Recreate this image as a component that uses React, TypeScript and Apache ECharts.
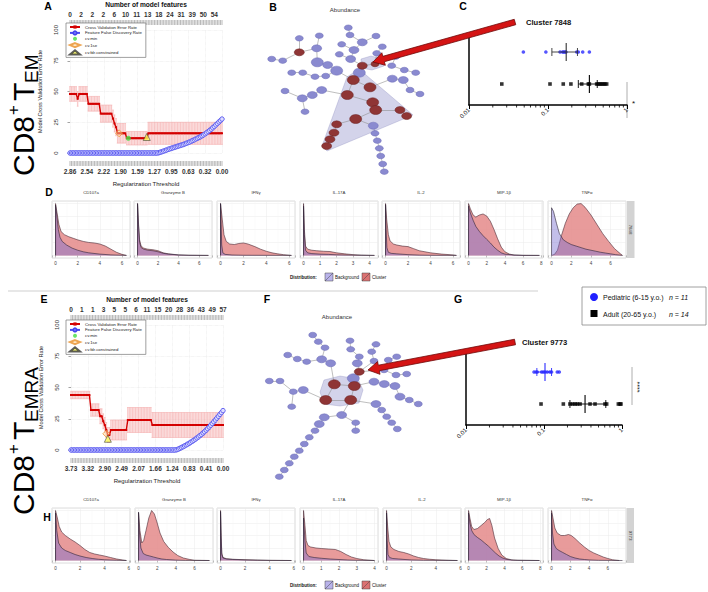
import React, { useEffect, useRef } from "react";
import * as echarts from "echarts";

const FONT = "'Liberation Sans', Arial, Helvetica, sans-serif";

// ---------------- Panel A : CD8+ TEM lasso cross-validation ----------------
const lambdaLabelsA = ["2.86", "2.54", "2.22", "1.90", "1.59", "1.27", "0.95", "0.63", "0.32", "0.00"];
const featureCountsA = ["0", "2", "2", "2", "6", "10", "11", "13", "18", "24", "31", "39", "50", "54"];
const cvErrorA = [
  48, 48, 48, 48, 48, 44, 48, 48, 48, 48,
  48, 48, 40, 40, 40, 40, 40, 40, 40, 40,
  32, 32, 32, 32, 32, 32, 32, 32, 28, 24,
  21, 16, 16, 16, 16, 16, 16, 12, 12, 12,
  12, 12, 12, 12, 12, 12, 12, 12, 12, 12,
  12, 16, 16, 16, 16, 16, 16, 16, 16, 16,
  16, 16, 16, 16, 16, 16, 16, 16, 16, 16,
  16, 16, 16, 16, 16, 16, 16, 16, 16, 16,
  16, 16, 16, 16, 16, 16, 16, 16, 16, 16,
  16, 16, 16, 16, 16, 16, 16, 16, 16, 16,
];
const cvSEA = [
  6, 6, 6, 6, 6, 6, 6, 6, 6, 6,
  6, 6, 6, 6, 6, 6, 6, 6, 6, 6,
  7, 7, 7, 7, 7, 7, 7, 7, 7, 7,
  7, 8, 8, 8, 8, 8, 8, 5.5, 5.5, 5.5,
  5.5, 5.5, 5.5, 5.5, 5.5, 5.5, 5.5, 5.5, 5.5, 5.5,
  5.5, 9, 9, 9, 9, 9, 9, 9, 9, 9,
  9, 9, 9, 9, 9, 9, 9, 9, 9, 9,
  9, 9, 9, 9, 9, 9, 9, 9, 9, 9,
  9, 9, 9, 9, 9, 9, 9, 9, 9, 9,
  9, 9, 9, 9, 9, 9, 9, 9, 9, 9,
];
const fdrA = [
  0, 0, 0, 0, 0, 0, 0, 0, 0, 0,
  0, 0, 0, 0, 0, 0, 0, 0, 0, 0,
  0, 0, 0, 0, 0, 0, 0, 0, 0, 0,
  0, 0, 0, 0, 0, 0, 0, 0, 0, 0,
  0, 0, 0, 0, 0, 0, 0, 0, 0, 0,
  0, 0, 0, 0, 0, 0, 0, 0, 0.3, 0.7,
  1.1, 1.6, 2.0, 2.5, 3.0, 3.4, 3.8, 4.2, 4.6, 5.0,
  5.4, 5.8, 6.2, 6.6, 7.0, 7.5, 8.0, 8.5, 9.0, 9.6,
  10.2, 10.8, 11.4, 12.0, 12.6, 13.3, 14.0, 14.8, 15.6, 16.5,
  17.4, 18.4, 19.4, 20.5, 21.6, 22.8, 24.0, 25.2, 26.4, 27.6,
];
const cvMinA = [[38, 12]];
const cv1seA = [[32, 16]];
const cvFdrA = [[50, 13]];

// ---------------- Panel E : CD8+ TEMRA lasso cross-validation ----------------
const lambdaLabelsE = ["3.73", "3.32", "2.90", "2.49", "2.07", "1.66", "1.24", "0.83", "0.41", "0.00"];
const featureCountsE = ["0", "1", "1", "3", "5", "5", "6", "11", "15", "20", "28", "36", "43", "49", "57"];
const cvErrorE = [
  44, 44, 44, 44, 44, 44, 44, 44, 44, 44,
  44, 44, 44, 32, 32, 32, 32, 32, 32, 27,
  27, 23, 20, 16, 12, 12, 16, 16, 16, 16,
  16, 16, 16, 16, 16, 16, 16, 24, 24, 24,
  24, 24, 24, 24, 24, 24, 24, 24, 24, 24,
  24, 24, 24, 20, 20, 20, 20, 20, 20, 20,
  20, 20, 20, 20, 20, 20, 20, 20, 20, 20,
  20, 20, 20, 20, 20, 20, 20, 20, 20, 20,
  20, 20, 20, 20, 20, 20, 20, 20, 20, 20,
  20, 20, 20, 20, 20, 20, 20, 20, 20, 20,
];
const cvSEE = [
  3, 3, 3, 3, 3, 3, 3, 3, 3, 3,
  3, 3, 3, 5, 5, 5, 5, 5, 5, 6,
  6, 6, 6, 6, 6, 6, 8, 8, 8, 8,
  8, 8, 8, 8, 8, 8, 8, 10, 10, 10,
  10, 10, 10, 10, 10, 10, 10, 10, 10, 10,
  10, 10, 10, 10, 10, 10, 10, 10, 10, 10,
  10, 10, 10, 10, 10, 10, 10, 10, 10, 10,
  10, 10, 10, 10, 10, 10, 10, 10, 10, 10,
  10, 10, 10, 10, 10, 10, 10, 10, 10, 10,
  10, 10, 10, 10, 10, 10, 10, 10, 10, 10,
];
const fdrE = [
  0, 0, 0, 0, 0, 0, 0, 0, 0, 0,
  0, 0, 0, 0, 0, 0, 0, 0, 0, 0,
  0, 0, 0, 0, 0, 0, 0, 0, 0, 0,
  0, 0, 0, 0, 0, 0, 0, 0, 0, 0,
  0, 0, 0, 0, 0, 0, 0, 0, 0, 0,
  0, 0, 0, 0, 0, 0, 0, 0, 0, 0,
  0, 0, 0, 0, 0, 0, 0, 0, 0, 0.3,
  0.8, 1.4, 2.0, 2.6, 3.3, 4.0, 4.7, 5.4, 6.2, 7.0,
  7.8, 8.7, 9.6, 10.5, 11.5, 12.5, 13.6, 14.7, 15.9, 17.1,
  18.4, 19.8, 21.2, 22.6, 24.0, 25.5, 27.0, 28.5, 30.0, 31.5,
];
const cvMinE: number[][] = [];
const cv1seE = [[23, 13]];
const cvFdrE = [[24, 9]];

// ---------------- Panels C / G : cluster abundance per donor ----------------
const pediatricC = [0.0488, 0.094, 0.142, 0.153, 0.158, 0.164, 0.169, 0.231, 0.242, 0.275, 0.334];
const adultC = [0.026, 0.106, 0.156, 0.195, 0.267, 0.324, 0.334, 0.413, 0.434, 0.455, 0.477, 0.5, 0.525, 0.553];
const pediatricStatsC = [0.17, 0.112, 0.236]; // mean, low, high
const adultStatsC = [0.334, 0.242, 0.42];
const pediatricG = [0.0745, 0.079, 0.082, 0.093, 0.098, 0.103, 0.11, 0.119, 0.125, 0.148, 0.157];
const adultG = [0.0916, 0.177, 0.215, 0.233, 0.25, 0.267, 0.29, 0.389, 0.451, 0.605, 0.636, 0.898, 0.943, 0.97];
const pediatricStatsG = [0.103, 0.081, 0.125];
const adultStatsG = [0.336, 0.215, 0.62];
const logMinorTicks = [0.02, 0.03, 0.04, 0.05, 0.06, 0.07, 0.08, 0.09, 0.2, 0.3, 0.4, 0.5, 0.6, 0.7, 0.8, 0.9];

// ---------------- Panels B / F : SPADE trees (x, y, abundance class, in-cluster) ----------------
const nodesB = [
  [108.3, 27.7, 0, 0], [110, 35, 0, 0], [122.3, 42.3, 1, 0], [136, 36, 0, 0], [142.3, 46.7, 0, 0],
  [136.7, 53.3, 0, 0], [101.7, 44.3, 0, 0], [114, 50, 1, 0], [99.3, 54.3, 0, 0], [110.7, 59, 1, 0],
  [59.3, 38.3, 0, 0], [79.3, 35.7, 0, 0], [76.7, 48.3, 1, 0], [31.7, 59, 0, 0], [42.7, 60.7, 0, 0],
  [77.3, 62.3, 2, 0], [87.7, 65, 1, 0], [96.7, 70.7, 2, 0], [51.7, 72.7, 0, 0], [62.7, 72.7, 0, 0],
  [75, 76.7, 0, 0], [85.7, 76, 0, 0], [119.3, 72.7, 2, 0], [151.7, 65.7, 0, 0], [164.3, 70, 0, 0],
  [175.7, 72.7, 0, 0], [152.3, 78.7, 1, 0], [163.3, 80, 1, 0], [170, 90, 0, 0], [180, 94, 0, 0],
  [45, 91, 0, 0], [62.3, 98.3, 1, 0], [72.3, 95, 1, 0], [81.7, 90, 1, 0], [65, 111.7, 0, 0],
  [133.3, 125.7, 1, 0], [135, 133.3, 0, 0], [137.3, 140.7, 0, 0], [139.3, 148.3, 0, 0], [140.7, 156, 0, 0],
  [142.7, 164, 0, 0], [144.3, 171.7, 0, 0], [155.7, 56.7, 0, 0],
  [59.3, 52.3, 1, 1], [122.3, 65.7, 1, 1], [135, 64, 0, 1], [113.3, 80, 2, 1], [130, 87.3, 2, 1],
  [107.3, 95, 2, 1], [132.7, 102.3, 2, 1], [135.7, 110, 2, 1], [160, 110, 1, 1], [166.7, 116, 1, 1],
  [115.7, 119, 2, 1], [96.7, 124.3, 1, 1], [94, 132.7, 1, 1], [90, 139.3, 1, 1], [86.7, 146, 1, 1],
];
const edgesB = [
  [0, 1], [1, 2], [2, 3], [2, 7], [4, 5], [5, 45], [6, 7], [7, 9], [8, 9], [9, 44], [44, 45], [44, 22],
  [22, 46], [10, 43], [43, 12], [11, 12], [12, 15], [13, 14], [14, 43], [15, 16], [16, 17], [17, 46],
  [18, 19], [19, 20], [20, 21], [21, 17], [45, 42], [42, 23], [23, 24], [24, 25], [46, 47], [47, 26],
  [26, 27], [27, 28], [28, 29], [46, 48], [48, 33], [33, 32], [32, 31], [31, 30], [31, 34], [48, 49],
  [49, 50], [50, 51], [51, 52], [50, 53], [53, 54], [54, 55], [55, 56], [56, 57], [53, 35], [35, 36],
  [36, 37], [37, 38], [38, 39], [39, 40], [40, 41],
];
const hullsB = [
  [[107, 77], [119, 69], [173, 115], [87, 151], [82, 146]],
  [[121, 59], [131, 56], [143, 59], [144, 66], [132, 70], [121, 68]],
];
const nodesF = [
  [72.7, 35, 0, 0], [78.3, 41.7, 0, 0], [85, 47.7, 0, 0], [81.7, 59.3, 1, 0], [90.7, 63.3, 1, 0],
  [47.7, 55, 0, 0], [57.3, 59, 0, 0], [66.7, 61.7, 0, 0], [110, 40.7, 0, 0], [110.7, 49.3, 0, 0],
  [119.3, 56.7, 0, 0], [117.3, 63.3, 1, 0], [131.7, 51.7, 0, 0], [136, 44.3, 0, 0], [134, 61, 0, 0],
  [148.3, 60, 0, 0], [156.7, 56.7, 0, 0], [144, 70, 0, 0], [156, 75, 0, 0], [166.7, 74, 0, 0],
  [113.3, 78.3, 2, 0], [134, 81.7, 1, 0], [144.3, 84, 1, 0], [155, 86, 1, 0], [160, 96.7, 1, 0],
  [169.3, 100, 0, 0], [178.3, 104, 0, 0], [29.3, 81, 0, 0], [40, 81, 0, 0], [53.3, 91.7, 0, 0],
  [63.3, 90, 1, 0], [51.7, 106.7, 0, 0], [136, 104, 1, 0], [141.7, 110, 0, 0], [146.7, 116.7, 0, 0],
  [151.7, 122.7, 0, 0], [157.3, 129, 0, 0], [101.7, 115, 1, 0], [115.7, 122.7, 0, 0], [115.7, 130.7, 0, 0],
  [84.3, 117.3, 1, 0], [79.3, 124, 1, 0], [75, 130.7, 0, 0], [69.3, 137.3, 0, 0], [64.3, 144, 0, 0],
  [59.3, 150.7, 0, 0], [54.3, 156.7, 0, 0], [49.3, 163.3, 0, 0], [44.3, 170, 0, 0], [39.3, 176.7, 0, 0],
  [119.3, 71.7, 1, 1], [94.3, 84.3, 2, 1], [114.3, 86, 2, 1], [85.7, 100, 2, 1], [110.7, 100, 2, 1],
];
const edgesF = [
  [0, 1], [1, 2], [2, 3], [3, 4], [5, 6], [6, 7], [7, 3], [4, 51], [8, 9], [9, 10], [10, 11], [11, 50],
  [13, 12], [12, 14], [14, 50], [16, 15], [15, 17], [17, 18], [18, 19], [17, 50], [50, 52], [20, 52],
  [51, 52], [51, 53], [52, 54], [53, 54], [52, 21], [21, 22], [22, 23], [23, 24], [24, 25], [25, 26],
  [53, 30], [30, 29], [29, 28], [28, 27], [29, 31], [54, 32], [32, 33], [33, 34], [34, 35], [35, 36],
  [54, 37], [37, 38], [38, 39], [37, 40], [40, 41], [41, 42], [42, 43], [43, 44], [44, 45], [45, 46],
  [46, 47], [47, 48], [48, 49],
];
const hullsF = [
  [[84, 80], [100, 76], [118, 79], [123, 90], [119, 103], [100, 106], [84, 104], [80, 92]],
];

// ---------------- Panels D / H : marker densities ----------------
const densityMarkers = ["CD107a", "Granzyme B", "IFNγ", "IL-17A", "IL-2", "MIP-1β", "TNFα"];
const temXMax = [6.4, 6.9, 6.2, 4.3, 6.3, 7.8, 7.2];
const temraXMax = [5.8, 7.6, 5.8, 4.0, 5.75, 7.9, 7.55];
const temXStep = [2, 2, 2, 1, 2, 2, 2];
const temraXStep = [2, 2, 2, 1, 2, 2, 2];

const temCD107aCl = [[0, 0], [0, 1], [0.15, 0.8], [0.3, 0.6], [0.5, 0.46], [0.8, 0.4], [1.2, 0.36], [1.6, 0.33], [2, 0.3], [2.5, 0.27], [3, 0.25], [3.5, 0.24], [4, 0.22], [4.5, 0.18], [5, 0.12], [5.5, 0.06], [6, 0.02], [6.4, 0]];
const temCD107aBg = [[0, 0], [0, 0.97], [0.1, 0.8], [0.25, 0.5], [0.4, 0.35], [0.6, 0.27], [1, 0.2], [1.5, 0.14], [2, 0.1], [2.5, 0.07], [3, 0.05], [4, 0.025], [5, 0.01], [6, 0.003], [6.4, 0]];
const temGzmBCl = [[0, 0], [0, 1], [0.1, 0.6], [0.2, 0.3], [0.35, 0.18], [0.6, 0.14], [1, 0.12], [1.5, 0.11], [2, 0.09], [2.5, 0.05], [3, 0.03], [4, 0.01], [5, 0.003], [6.9, 0]];
const temGzmBBg = [[0, 0], [0, 1], [0.1, 0.55], [0.2, 0.25], [0.35, 0.15], [0.6, 0.12], [1, 0.1], [1.5, 0.09], [2, 0.07], [2.5, 0.04], [3, 0.025], [4, 0.008], [5, 0.002], [6.9, 0]];
const temIFNgCl = [[0, 0], [0, 1], [0.15, 0.7], [0.3, 0.4], [0.5, 0.27], [0.8, 0.22], [1.2, 0.21], [1.6, 0.23], [2, 0.24], [2.4, 0.22], [3, 0.17], [3.5, 0.12], [4, 0.08], [4.5, 0.05], [5, 0.03], [5.5, 0.015], [6.2, 0]];
const temIFNgBg = [[0, 0], [0, 1], [0.05, 0.6], [0.1, 0.2], [0.2, 0.05], [0.4, 0.02], [1, 0.008], [2, 0.003], [6.2, 0]];
const temIL17ACl = [[0, 0], [0, 1], [0.05, 0.5], [0.12, 0.18], [0.25, 0.12], [0.5, 0.1], [0.8, 0.09], [1.2, 0.08], [1.6, 0.075], [2, 0.05], [2.5, 0.03], [3, 0.015], [3.5, 0.005], [4.3, 0]];
const temIL17ABg = [[0, 0], [0, 0.95], [0.05, 0.4], [0.12, 0.1], [0.25, 0.05], [0.5, 0.035], [1, 0.025], [1.5, 0.02], [2, 0.012], [3, 0.004], [4.3, 0]];
const temIL2Cl = [[0, 0], [0, 1], [0.1, 0.7], [0.25, 0.4], [0.4, 0.28], [0.7, 0.22], [1, 0.2], [1.5, 0.18], [2, 0.17], [2.5, 0.13], [3, 0.09], [3.5, 0.07], [4, 0.05], [5, 0.025], [6, 0.01], [6.3, 0]];
const temIL2Bg = [[0, 0], [0, 0.98], [0.05, 0.5], [0.12, 0.15], [0.25, 0.06], [0.5, 0.04], [1, 0.03], [2, 0.015], [3, 0.006], [4, 0.002], [6.3, 0]];
const temMIP1bCl = [[0, 0], [0, 1], [0.2, 0.9], [0.5, 0.78], [0.8, 0.74], [1.2, 0.78], [1.6, 0.8], [2, 0.76], [2.4, 0.66], [2.8, 0.5], [3.2, 0.32], [3.6, 0.16], [4, 0.07], [4.5, 0.025], [5, 0.008], [6, 0.001], [7.8, 0]];
const temMIP1bBg = [[0, 0], [0, 0.95], [0.2, 0.82], [0.5, 0.68], [0.8, 0.56], [1.2, 0.46], [1.6, 0.38], [2, 0.31], [2.4, 0.24], [2.8, 0.16], [3.2, 0.1], [3.6, 0.05], [4, 0.025], [5, 0.006], [6, 0.001], [7.8, 0]];
const temTNFaCl = [[0, 0], [0.3, 0.02], [0.6, 0.1], [1, 0.38], [1.4, 0.62], [1.8, 0.8], [2.2, 0.92], [2.6, 0.99], [3, 1], [3.4, 0.93], [4, 0.78], [4.6, 0.6], [5.2, 0.42], [5.8, 0.27], [6.4, 0.13], [7, 0.03], [7.2, 0]];
const temTNFaBg = [[0, 0], [0, 0.92], [0.2, 0.85], [0.5, 0.62], [0.8, 0.42], [1.2, 0.3], [1.6, 0.25], [2, 0.21], [2.5, 0.18], [3, 0.15], [3.5, 0.12], [4, 0.1], [4.5, 0.08], [5, 0.06], [5.5, 0.045], [6, 0.03], [6.5, 0.015], [7.2, 0]];

const temraCD107aCl = [[0, 0], [0, 1], [0.15, 0.85], [0.3, 0.68], [0.5, 0.57], [0.8, 0.5], [1.2, 0.43], [1.6, 0.37], [2, 0.3], [2.4, 0.22], [2.8, 0.16], [3.2, 0.13], [3.6, 0.11], [4, 0.09], [4.5, 0.06], [5, 0.03], [5.5, 0.01], [5.8, 0]];
const temraCD107aBg = [[0, 0], [0, 0.95], [0.1, 0.6], [0.25, 0.35], [0.5, 0.25], [0.8, 0.2], [1.2, 0.16], [1.6, 0.12], [2, 0.09], [2.5, 0.06], [3, 0.04], [3.5, 0.025], [4, 0.015], [5, 0.005], [5.8, 0]];
const temraGzmBCl = [[0, 0], [0, 0.95], [0.15, 0.6], [0.35, 0.35], [0.55, 0.4], [0.8, 0.6], [1.1, 0.85], [1.4, 1], [1.7, 0.93], [2, 0.75], [2.3, 0.55], [2.7, 0.38], [3.2, 0.26], [3.7, 0.17], [4.2, 0.1], [4.8, 0.05], [5.5, 0.02], [6, 0.005], [7.6, 0]];
const temraGzmBBg = [[0, 0], [0, 0.97], [0.1, 0.55], [0.25, 0.25], [0.5, 0.14], [0.8, 0.11], [1.2, 0.09], [1.6, 0.07], [2, 0.05], [2.5, 0.03], [3, 0.02], [4, 0.008], [5, 0.002], [7.6, 0]];
const temraIFNgCl = [[0, 0], [0, 1], [0.05, 0.5], [0.1, 0.15], [0.2, 0.06], [0.5, 0.035], [1, 0.025], [2, 0.015], [3, 0.008], [4, 0.003], [5.8, 0]];
const temraIFNgBg = [[0, 0], [0, 0.98], [0.05, 0.45], [0.1, 0.12], [0.2, 0.05], [0.5, 0.03], [1, 0.02], [2, 0.012], [3, 0.006], [4, 0.002], [5.8, 0]];
const temraIL17ACl = [[0, 0], [0, 1], [0.08, 0.7], [0.15, 0.4], [0.25, 0.3], [0.4, 0.27], [0.7, 0.25], [1, 0.24], [1.4, 0.23], [1.8, 0.22], [2.1, 0.18], [2.4, 0.12], [2.7, 0.07], [3, 0.04], [3.4, 0.015], [4, 0]];
const temraIL17ABg = [[0, 0], [0, 0.85], [0.08, 0.4], [0.15, 0.15], [0.3, 0.08], [0.6, 0.06], [1, 0.045], [1.5, 0.03], [2, 0.02], [2.5, 0.01], [3, 0.004], [4, 0]];
const temraIL2Cl = [[0, 0], [0, 1], [0.1, 0.65], [0.2, 0.38], [0.35, 0.27], [0.6, 0.22], [1, 0.18], [1.4, 0.16], [1.8, 0.13], [2.2, 0.09], [2.6, 0.06], [3, 0.04], [3.5, 0.025], [4, 0.015], [5, 0.005], [5.75, 0]];
const temraIL2Bg = [[0, 0], [0, 0.95], [0.05, 0.4], [0.12, 0.12], [0.25, 0.06], [0.5, 0.04], [1, 0.03], [1.5, 0.02], [2, 0.012], [3, 0.005], [5.75, 0]];
const temraMIP1bCl = [[0, 0], [0, 1], [0.15, 0.85], [0.35, 0.68], [0.6, 0.62], [1, 0.64], [1.4, 0.7], [1.8, 0.76], [2.1, 0.82], [2.35, 0.84], [2.6, 0.7], [2.9, 0.45], [3.3, 0.24], [3.7, 0.11], [4.2, 0.04], [4.8, 0.012], [5.5, 0.003], [7.9, 0]];
const temraMIP1bBg = [[0, 0], [0, 0.95], [0.15, 0.75], [0.35, 0.6], [0.6, 0.52], [1, 0.46], [1.4, 0.41], [1.8, 0.35], [2.2, 0.29], [2.6, 0.22], [3, 0.15], [3.4, 0.09], [3.8, 0.05], [4.3, 0.02], [5, 0.006], [7.9, 0]];
const temraTNFaCl = [[0, 0], [0, 1], [0.15, 0.85], [0.35, 0.65], [0.6, 0.55], [1, 0.5], [1.4, 0.5], [1.8, 0.52], [2.1, 0.5], [2.5, 0.44], [3, 0.35], [3.5, 0.27], [4, 0.2], [4.5, 0.15], [5, 0.11], [5.5, 0.07], [6, 0.04], [6.5, 0.015], [7.2, 0]];
const temraTNFaBg = [[0, 0], [0, 0.95], [0.1, 0.55], [0.25, 0.33], [0.5, 0.24], [0.8, 0.2], [1.2, 0.16], [1.6, 0.12], [2, 0.08], [2.5, 0.05], [3, 0.03], [3.5, 0.02], [4, 0.012], [5, 0.004], [7.55, 0]];

const temCluster = [temCD107aCl, temGzmBCl, temIFNgCl, temIL17ACl, temIL2Cl, temMIP1bCl, temTNFaCl];
const temBackground = [temCD107aBg, temGzmBBg, temIFNgBg, temIL17ABg, temIL2Bg, temMIP1bBg, temTNFaBg];
const temraCluster = [temraCD107aCl, temraGzmBCl, temraIFNgCl, temraIL17ACl, temraIL2Cl, temraMIP1bCl, temraTNFaCl];
const temraBackground = [temraCD107aBg, temraGzmBBg, temraIFNgBg, temraIL17ABg, temraIL2Bg, temraMIP1bBg, temraTNFaBg];

// ---------------- layout constants ----------------
const DENS_LEFT_D = [52, 134, 217, 300, 382, 465, 548];
const DENS_LEFT_H = [52, 135, 217, 300, 383, 465, 548];
const DENS_W = 78;

const isInt = (v: number) => Math.abs(v - Math.round(v)) < 1e-6;

function arrowPoints(tail: number[], tip: number[]) {
  const dx = tip[0] - tail[0];
  const dy = tip[1] - tail[1];
  const L = Math.hypot(dx, dy);
  const ux = dx / L, uy = dy / L;
  const nx = -uy, ny = ux;
  const sw = 2.8, hw = 6.5, hl = 11;
  const hx = tip[0] - ux * hl, hy = tip[1] - uy * hl;
  return [
    [tail[0] + nx * sw, tail[1] + ny * sw],
    [hx + nx * sw, hy + ny * sw],
    [hx + nx * hw, hy + ny * hw],
    [tip[0], tip[1]],
    [hx - nx * hw, hy - ny * hw],
    [hx - nx * sw, hy - ny * sw],
    [tail[0] - nx * sw, tail[1] - ny * sw],
  ];
}

function cellLabel(x: number, y: number, sub: string) {
  const big = 30;
  const t = (text: string, lx: number, ly: number, size: number) => ({
    type: "text",
    x: lx,
    y: ly,
    silent: true,
    style: { text, fontSize: size, fontFamily: FONT, fill: "#000", align: "left", verticalAlign: "middle" },
  });
  return {
    type: "group",
    x,
    y,
    rotation: Math.PI / 2,
    silent: true,
    children: [t("CD8", 0, 0, big), t("+", 61, -10, 17), t("T", 75, 0, big), t(sub, 93, 8.5, 19)],
  };
}

function buildOption() {
  const grids: any[] = [];
  const xAxes: any[] = [];
  const yAxes: any[] = [];
  const series: any[] = [];
  const graphic: any[] = [];

  // ---------- lasso CV panels (A, E) ----------
  const cvPanel = (
    left: number,
    top: number,
    topMax: number,
    lambdaLabels: string[],
    featureCounts: string[],
    cv: number[],
    se: number[],
    fdr: number[],
    cvMin: number[][],
    cv1se: number[][],
    cvFdr: number[][]
  ) => {
    const gi = grids.length;
    grids.push({ left, top, width: 152, height: 125 });
    const xb = xAxes.length;
    xAxes.push({
      gridIndex: gi, type: "value", position: "bottom", min: 0, max: 99, interval: 11, offset: 13,
      axisLine: { show: false },
      axisTick: { show: false },
      axisLabel: {
        fontSize: 6.5, fontWeight: "bold", color: "#333", margin: 2, fontFamily: FONT, hideOverlap: false,
        formatter: (v: number) => {
          const k = Math.round(v / 11);
          return Math.abs(v - k * 11) < 1e-6 ? lambdaLabels[k] ?? "" : "";
        },
      },
      splitLine: { show: true, lineStyle: { color: "#e4e4e4", width: 0.6, type: "dotted" } },
      name: "Regularization Threshold", nameLocation: "middle", nameGap: 15,
      nameTextStyle: { fontSize: 6, color: "#222", fontFamily: FONT },
    });
    xAxes.push({
      gridIndex: gi, type: "value", position: "top", min: 0, max: topMax, interval: 1, offset: 10,
      axisLine: { show: false },
      axisTick: { show: false },
      axisLabel: {
        fontSize: 6.5, fontWeight: "bold", color: "#333", margin: 2, fontFamily: FONT, hideOverlap: false,
        formatter: (v: number) => (isInt(v) ? featureCounts[Math.round(v)] ?? "" : ""),
      },
      splitLine: { show: false },
      name: "Number of model features", nameLocation: "middle", nameGap: 12,
      nameTextStyle: { fontSize: 6.6, fontWeight: "bold", color: "#111", fontFamily: FONT },
    });
    const yi = yAxes.length;
    yAxes.push({
      gridIndex: gi, type: "value", min: 0, max: 100, interval: 25, offset: 7,
      axisLine: { show: false },
      axisTick: { show: true, length: 2.5, lineStyle: { color: "#666", width: 0.6 } },
      axisLabel: { rotate: 90, fontSize: 6, color: "#333", margin: 4, fontFamily: FONT },
      splitLine: { show: true, lineStyle: { color: "#e4e4e4", width: 0.6, type: "dotted" } },
      name: "Model Cross Validation Error Rate", nameLocation: "middle", nameGap: 20,
      nameTextStyle: { fontSize: 5.5, color: "#222", fontFamily: FONT },
    });
    const common = { xAxisIndex: xb, yAxisIndex: yi, silent: true, emphasis: { disabled: true } };
    // rug of lambda values on both the top and bottom axes
    series.push({
      ...common,
      type: "custom",
      name: "lambda rug",
      clip: false,
      z: 1,
      encode: { x: 0, y: 1 },
      data: cv.map((_v, i) => [i, 0]),
      renderItem: (_p: any, api: any) => {
        const b = api.coord([api.value(0), 0]);
        const t = api.coord([api.value(0), 100]);
        const st = { stroke: "#8a8a8a", lineWidth: 0.6 };
        return {
          type: "group",
          children: [
            { type: "line", shape: { x1: b[0], y1: b[1] + 8, x2: b[0], y2: b[1] + 13 }, style: st },
            { type: "line", shape: { x1: t[0], y1: t[1] - 10, x2: t[0], y2: t[1] - 5 }, style: st },
          ],
        };
      },
    });
    series.push({
      ...common,
      type: "custom",
      name: "cv band",
      z: 1,
      encode: { x: 0, y: [1, 2] },
      data: cv.map((v, i) => [i, v - se[i], v + se[i]]),
      renderItem: (_p: any, api: any) => {
        const lo = api.coord([api.value(0), api.value(1)]);
        const hi = api.coord([api.value(0), api.value(2)]);
        const w = 0.8;
        const st = { stroke: "#f2a3a3", lineWidth: 0.5 };
        return {
          type: "group",
          children: [
            { type: "rect", shape: { x: lo[0] - w, y: hi[1], width: 2 * w, height: lo[1] - hi[1] }, style: { fill: "rgba(250,205,205,0.45)" } },
            { type: "line", shape: { x1: lo[0], y1: lo[1], x2: hi[0], y2: hi[1] }, style: st },
            { type: "line", shape: { x1: lo[0] - w, y1: lo[1], x2: lo[0] + w, y2: lo[1] }, style: st },
            { type: "line", shape: { x1: hi[0] - w, y1: hi[1], x2: hi[0] + w, y2: hi[1] }, style: st },
          ],
        };
      },
    });
    series.push({
      ...common,
      type: "line",
      name: "Cross Validation Error Rate",
      z: 3,
      data: cv.map((v, i) => [i, v]),
      showAllSymbol: true,
      symbol: "rect",
      symbolSize: 2,
      lineStyle: { color: "#d40000", width: 1.4 },
      itemStyle: { color: "#d40000" },
    });
    series.push({
      ...common,
      type: "line",
      name: "Feature False Discovery Rate",
      z: 4,
      data: fdr.map((v, i) => [i, v]),
      showAllSymbol: true,
      symbol: "circle",
      symbolSize: 4.5,
      lineStyle: { color: "#4a4af0", width: 0.8 },
      itemStyle: { color: "#dcdcff", borderColor: "#4444ee", borderWidth: 0.8 },
    });
    series.push({
      ...common, type: "scatter", name: "cv.min", z: 5, data: cvMin, symbol: "circle", symbolSize: 5,
      itemStyle: { color: "#44dd44" },
    });
    series.push({
      ...common, type: "scatter", name: "cv.1se", z: 6, data: cv1se, symbol: "diamond", symbolSize: 7,
      itemStyle: { color: "rgba(255,220,160,0.6)", borderColor: "#e8902a", borderWidth: 0.9 },
    });
    series.push({
      ...common, type: "scatter", name: "cv.fdr.constrained", z: 7, data: cvFdr, symbol: "triangle", symbolSize: 7,
      itemStyle: { color: "#ffff55", borderColor: "#333", borderWidth: 0.7 },
    });
  };
  cvPanel(70, 28, 13.69, lambdaLabelsA, featureCountsA, cvErrorA, cvSEA, fdrA, cvMinA, cv1seA, cvFdrA);
  cvPanel(71, 325, 14, lambdaLabelsE, featureCountsE, cvErrorE, cvSEE, fdrE, cvMinE, cv1seE, cvFdrE);

  // ---------- abundance scatter panels (C, G) ----------
  const abundancePanel = (
    left: number, top: number, width: number, height: number, yMax: number,
    ped: number[], adult: number[], pedStats: number[], adultStats: number[], pedBarColor: string
  ) => {
    const gi = grids.length;
    grids.push({ left, top, width, height });
    const xi = xAxes.length;
    xAxes.push({
      gridIndex: gi, type: "log", logBase: 10, min: 0.01, max: 1,
      axisLine: { show: true, onZero: false, lineStyle: { color: "#000", width: 1.5 } },
      axisTick: { show: true, length: 4, lineStyle: { color: "#000", width: 1 } },
      axisLabel: {
        rotate: 45, fontSize: 6, color: "#111", margin: 4, fontFamily: FONT,
        formatter: (v: number) => String(+Number(v).toPrecision(3)),
      },
      splitLine: { show: false },
    });
    const yMin = -0.656;
    const yi = yAxes.length;
    yAxes.push({
      gridIndex: gi, type: "value", min: yMin, max: yMax,
      axisLine: { show: true, onZero: false, lineStyle: { color: "#000", width: 1.5 } },
      axisTick: { show: false }, axisLabel: { show: false }, splitLine: { show: false },
    });
    const common = { xAxisIndex: xi, yAxisIndex: yi, silent: true, emphasis: { disabled: true } };
    series.push({
      ...common, type: "custom", name: "minor ticks", clip: false, encode: { x: 0, y: 1 },
      data: logMinorTicks.map((v) => [v, yMin]),
      renderItem: (_p: any, api: any) => {
        const p = api.coord([api.value(0), api.value(1)]);
        return { type: "line", shape: { x1: p[0], y1: p[1], x2: p[0], y2: p[1] + 2.5 }, style: { stroke: "#000", lineWidth: 0.8 } };
      },
    });
    series.push({
      ...common, type: "scatter", name: "Pediatric (6-15 y.o.)", symbol: "circle", symbolSize: 3.6, z: 3,
      data: ped.map((v) => [v, 1]), itemStyle: { color: "#2b2bff" },
    });
    series.push({
      ...common, type: "scatter", name: "Adult (20-65 y.o.)", symbol: "rect", symbolSize: 3.6, z: 3,
      data: adult.map((v) => [v, 0]), itemStyle: { color: "#000" },
    });
    series.push({
      ...common, type: "custom", name: "mean ± sd", z: 4, encode: { x: [1, 2, 3], y: 0 },
      data: [[1, ...pedStats], [0, ...adultStats]],
      renderItem: (_p: any, api: any) => {
        const g = api.value(0);
        const pm = api.coord([api.value(1), g]);
        const pl = api.coord([api.value(2), g]);
        const ph = api.coord([api.value(3), g]);
        const color = g === 1 ? pedBarColor : "#000";
        const s = { stroke: color, lineWidth: 0.9 };
        return {
          type: "group",
          children: [
            { type: "line", shape: { x1: pl[0], y1: pl[1], x2: ph[0], y2: ph[1] }, style: s },
            { type: "line", shape: { x1: pl[0], y1: pl[1] - 4, x2: pl[0], y2: pl[1] + 4 }, style: s },
            { type: "line", shape: { x1: ph[0], y1: ph[1] - 4, x2: ph[0], y2: ph[1] + 4 }, style: s },
            { type: "line", shape: { x1: pm[0], y1: pm[1] - 9, x2: pm[0], y2: pm[1] + 9 }, style: { stroke: color, lineWidth: 1.1 } },
          ],
        };
      },
    });
  };
  abundancePanel(469, 37, 158, 68, 1.469, pediatricC, adultC, pediatricStatsC, adultStatsC, "#333");
  abundancePanel(466, 352, 156, 73, 1.625, pediatricG, adultG, pediatricStatsG, adultStatsG, "#2b2bff");

  // ---------- SPADE trees (B, F) ----------
  const treePanel = (top: number, height: number, nodes: number[][], edges: number[][], hulls: number[][][]) => {
    const gi = grids.length;
    grids.push({ left: 240, top, width: 230, height });
    const xi = xAxes.length;
    xAxes.push({ gridIndex: gi, type: "value", min: 0, max: 230, show: false });
    const yi = yAxes.length;
    yAxes.push({ gridIndex: gi, type: "value", min: 0, max: height, inverse: true, show: false });
    const common = { xAxisIndex: xi, yAxisIndex: yi, silent: true, emphasis: { disabled: true } };
    series.push({
      ...common, type: "custom", name: "cluster hull", z: 1, encode: { x: 0, y: 1 },
      data: [hulls[0][0]],
      renderItem: (_p: any, api: any) => ({
        type: "group",
        children: hulls.map((h) => ({
          type: "polygon",
          shape: { points: h.map((pt) => api.coord(pt)) },
          style: { fill: "rgba(150,150,205,0.42)", stroke: "rgba(120,120,180,0.55)", lineWidth: 0.5 },
        })),
      }),
    });
    const sizes = [[8, 5.5], [10, 7], [12, 9]];
    series.push({
      ...common, type: "graph", coordinateSystem: "cartesian2d", z: 2, name: "tree",
      symbol: "circle",
      data: nodes.map((n) => ({
        value: [n[0], n[1]],
        symbolSize: sizes[n[2]],
        itemStyle: n[3]
          ? { color: "#8f3535", borderColor: "#6a2222", borderWidth: 0.5 }
          : { color: "#8a8ad0", borderColor: "#6d6db8", borderWidth: 0.5 },
      })),
      links: edges.map((e) => ({ source: e[0], target: e[1] })),
      lineStyle: { color: "#8c8c8c", width: 0.6, opacity: 0.95, curveness: 0 },
      label: { show: false },
    });
  };
  treePanel(0, 210, nodesB, edgesB, hullsB);
  treePanel(300, 180, nodesF, edgesF, hullsF);

  // ---------- density panels (D, H) ----------
  const densityRows = [
    { top: 201, height: 57, lefts: DENS_LEFT_D, cl: temCluster, bg: temBackground, xMax: temXMax, step: temXStep },
    { top: 508, height: 55, lefts: DENS_LEFT_H, cl: temraCluster, bg: temraBackground, xMax: temraXMax, step: temraXStep },
  ];
  densityRows.forEach((row) => {
    row.lefts.forEach((left, k) => {
      const gi = grids.length;
      grids.push({ left, top: row.top, width: DENS_W, height: row.height, show: true, borderColor: "#d4d4d4", borderWidth: 0.8, backgroundColor: "#fff" });
      const xi = xAxes.length;
      const X = row.xMax[k];
      xAxes.push({
        gridIndex: gi, type: "value", min: -0.05 * X, max: 1.05 * X, minInterval: row.step[k], maxInterval: row.step[k],
        axisLine: { show: false },
        axisTick: { show: true, length: 2, lineStyle: { color: "#888", width: 0.5 } },
        axisLabel: { fontSize: 4.6, color: "#444", margin: 2.5, fontFamily: FONT, formatter: (v: number) => (isInt(v) ? String(Math.round(v)) : "") },
        splitLine: { show: true, lineStyle: { color: "#ebebeb", width: 0.5 } },
        minorTick: { show: false, splitNumber: 2 },
        minorSplitLine: { show: true, lineStyle: { color: "#f4f4f4", width: 0.4 } },
      });
      const yi = yAxes.length;
      yAxes.push({
        gridIndex: gi, type: "value", min: -0.05, max: 1.05, minInterval: 0.25, maxInterval: 0.25,
        axisLine: { show: false }, axisTick: { show: false }, axisLabel: { show: false },
        splitLine: { show: true, lineStyle: { color: "#ebebeb", width: 0.5 } },
      });
      const common = { xAxisIndex: xi, yAxisIndex: yi, silent: true, emphasis: { disabled: true }, symbol: "none" };
      series.push({
        ...common, type: "line", name: "Cluster", z: 2, data: row.cl[k],
        lineStyle: { color: "#4a2a35", width: 0.6 },
        areaStyle: { color: "#e48a8a", opacity: 0.85, origin: 0 },
      });
      series.push({
        ...common, type: "line", name: "Background", z: 3, data: row.bg[k],
        lineStyle: { color: "#2e2438", width: 0.6 },
        areaStyle: { color: "#7b6fd0", opacity: 0.45, origin: 0 },
      });
      graphic.push({
        type: "text", silent: true, x: left + DENS_W / 2, y: row.top - 9,
        style: { text: densityMarkers[k], fontSize: 4.3, fontFamily: FONT, fill: "#333", align: "center", verticalAlign: "middle" },
      });
    });
  });

  // ---------- decorations ----------
  const letter = (text: string, x: number, y: number) => ({
    type: "text", silent: true, x, y,
    style: { text, fontSize: 10.5, fontWeight: "bold", fontFamily: FONT, fill: "#000", align: "center", verticalAlign: "middle" },
  });
  graphic.push(letter("A", 48, 6), letter("B", 273, 7), letter("C", 463, 6), letter("D", 49, 192));
  graphic.push(letter("E", 44, 299), letter("F", 267, 299), letter("G", 458, 299), letter("H", 47, 517));
  graphic.push(cellLabel(23, 176, "EM"), cellLabel(23, 515, "EMRA"));
  graphic.push({ type: "line", silent: true, shape: { x1: 8, y1: 291, x2: 538, y2: 291 }, style: { stroke: "#cfcfcf", lineWidth: 1 } });

  const plain = (text: string, x: number, y: number, size: number, extra: any = {}) => ({
    type: "text", silent: true, x, y,
    style: { text, fontSize: size, fontFamily: FONT, fill: "#111", align: "left", verticalAlign: "middle", ...extra },
  });
  graphic.push(plain("Abundance", 345, 10, 6, { align: "center", fill: "#333" }));
  graphic.push(plain("Abundance", 337, 317, 6, { align: "center", fill: "#333" }));
  graphic.push(plain("Cluster 7848", 526, 22, 7.6, { fontWeight: "bold" }));
  graphic.push(plain("Cluster 9773", 522, 342, 7.6, { fontWeight: "bold" }));

  // arrows
  graphic.push({ type: "polygon", silent: true, z: 100, shape: { points: arrowPoints([515, 22], [373, 62]) }, style: { fill: "#d41414", stroke: "#6e0a0a", lineWidth: 0.8 } });
  graphic.push({ type: "polygon", silent: true, z: 100, shape: { points: arrowPoints([515, 342], [368, 370]) }, style: { fill: "#d41414", stroke: "#6e0a0a", lineWidth: 0.8 } });

  // significance
  graphic.push({ type: "line", silent: true, shape: { x1: 627, y1: 82, x2: 627, y2: 118 }, style: { stroke: "#999", lineWidth: 0.8 } });
  graphic.push(plain("*", 632, 103, 8));
  graphic.push({ type: "line", silent: true, shape: { x1: 632, y1: 367, x2: 632, y2: 405 }, style: { stroke: "#999", lineWidth: 0.8 } });
  graphic.push({
    type: "text", silent: true, x: 639, y: 387, rotation: Math.PI / 2,
    style: { text: "****", fontSize: 7, fontFamily: FONT, fill: "#111", align: "center", verticalAlign: "middle" },
  });

  // group legend (G)
  graphic.push({ type: "rect", silent: true, shape: { x: 582, y: 287, width: 124, height: 38 }, style: { fill: "#fff", stroke: "#888", lineWidth: 0.8 } });
  graphic.push({ type: "circle", silent: true, shape: { cx: 594, cy: 297, r: 4 }, style: { fill: "#2020ff" } });
  graphic.push({ type: "rect", silent: true, shape: { x: 590.5, y: 310, width: 7, height: 7 }, style: { fill: "#000" } });
  graphic.push(plain("Pediatric (6-15 y.o.)", 603, 297, 7));
  graphic.push(plain("n = 11", 669, 297, 7, { fontStyle: "italic" }));
  graphic.push(plain("Adult (20-65 y.o.)", 603, 314, 7));
  graphic.push(plain("n = 14", 669, 314, 7, { fontStyle: "italic" }));

  // density strips and legends
  const strip = (x: number, y: number, h: number, text: string) => {
    graphic.push({ type: "rect", silent: true, shape: { x, y, width: 7.5, height: h }, style: { fill: "#d3d3d3" } });
    graphic.push({
      type: "text", silent: true, x: x + 3.75, y: y + h / 2, rotation: -Math.PI / 2,
      style: { text, fontSize: 4.3, fontFamily: FONT, fill: "#333", align: "center", verticalAlign: "middle" },
    });
  };
  strip(627, 201, 57, "7848");
  strip(626.5, 508, 55, "9773");
  const distLegend = (y: number) => {
    graphic.push(plain("Distribution:", 290, y, 4.5, { fontWeight: "bold" }));
    graphic.push({ type: "rect", silent: true, shape: { x: 325, y: y - 4, width: 8, height: 8 }, style: { fill: "#b9b3ea", stroke: "#444", lineWidth: 0.5 } });
    graphic.push({ type: "line", silent: true, shape: { x1: 325, y1: y + 4, x2: 333, y2: y - 4 }, style: { stroke: "#444", lineWidth: 0.5 } });
    graphic.push(plain("Background", 335, y, 4.5));
    graphic.push({ type: "rect", silent: true, shape: { x: 362, y: y - 4, width: 8, height: 8 }, style: { fill: "#dc7272", stroke: "#444", lineWidth: 0.5 } });
    graphic.push({ type: "line", silent: true, shape: { x1: 362, y1: y + 4, x2: 370, y2: y - 4 }, style: { stroke: "#444", lineWidth: 0.5 } });
    graphic.push(plain("Cluster", 372, y, 4.5));
  };
  distLegend(277);
  distLegend(585);

  const legendNames = ["Cross Validation Error Rate", "Feature False Discovery Rate", "cv.min", "cv.1se", "cv.fdr.constrained"];
  const legendBase = {
    orient: "vertical", data: legendNames, itemWidth: 10, itemHeight: 4, itemGap: 1.3,
    padding: [2, 4, 2, 3], backgroundColor: "#fff", borderColor: "#777", borderWidth: 0.7,
    selectedMode: false, textStyle: { fontSize: 4.3, fontFamily: FONT, color: "#222" },
  };

  return {
    animation: false,
    backgroundColor: "#fff",
    textStyle: { fontFamily: FONT },
    legend: [
      { ...legendBase, left: 66, top: 23 },
      { ...legendBase, left: 66, top: 320 },
    ],
    grid: grids,
    xAxis: xAxes,
    yAxis: yAxes,
    series,
    graphic,
  };
}

export default function App() {
  const ref = useRef<HTMLDivElement>(null);
  useEffect(() => {
    if (!ref.current) return;
    const chart = echarts.init(ref.current, undefined, { renderer: "svg" });
    chart.setOption(buildOption() as any);
    return () => chart.dispose();
  }, []);
  return (
    <div
      ref={ref}
      style={{ position: "fixed", left: 0, top: 0, width: 708, height: 592, background: "#fff" }}
    />
  );
}
